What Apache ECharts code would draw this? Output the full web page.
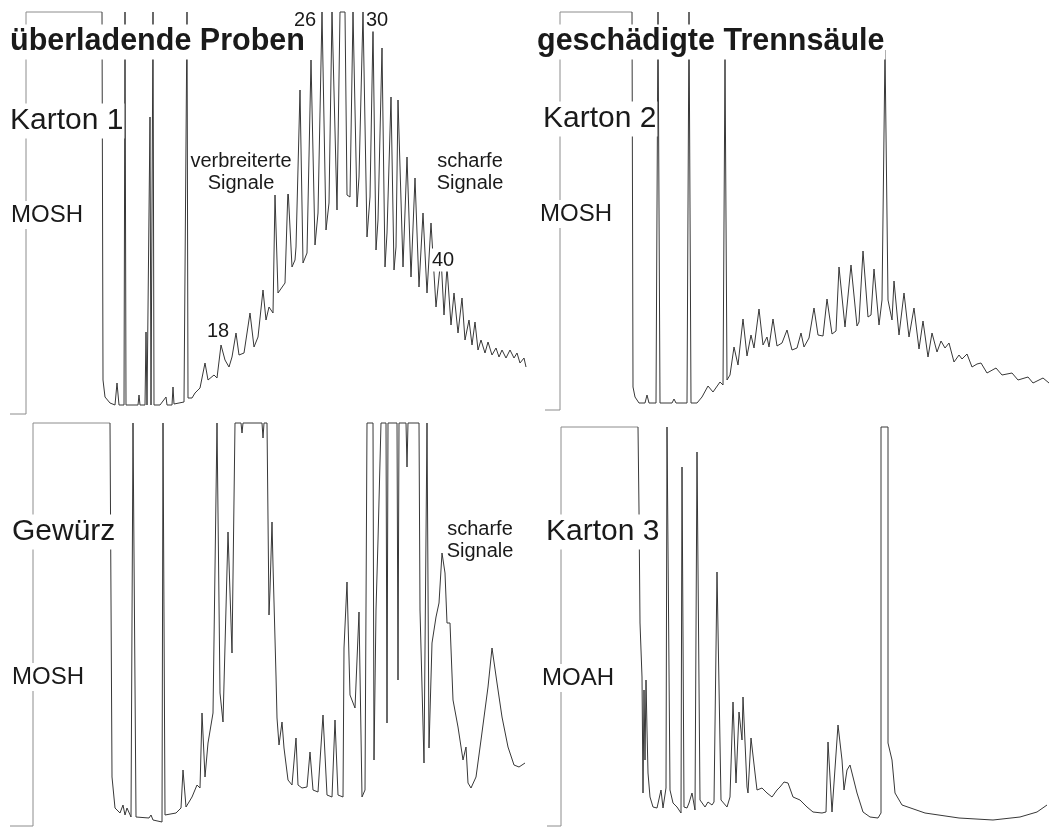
<!DOCTYPE html>
<html>
<head>
<meta charset="utf-8">
<script src="https://cdn.jsdelivr.net/npm/echarts@6/dist/echarts.min.js"></script>
<style>
  html, body { margin: 0; padding: 0; background: #ffffff; }
  #chart { width: 1049px; height: 828px; }
</style>
</head>
<body>
<div id="chart"></div>
<script>
// GC-FID traces: [retention time (a.u.), detector signal (a.u.)]
const karton1Trace = [
  [10,0],[26,0],[26,402],[102,402],[103,34],[105,17],[110,11],[115,9],[117,31],[119,9],[124,9],[125,402],[126,9],
  [138,9],[139,19],[140,9],[145,9],[146,82],[147,9],[149,9],[150,297],[151,9],[152,9],[153,402],[154,9],[160,9],
  [166,17],[167,9],[172,9],[173,27],[174,10],[184,12],[186,14],[187,402],[188,16],[192,16],[195,21],[200,26],
  [205,51],[208,34],[214,39],[217,36],[221,69],[225,54],[229,47],[232,57],[236,81],[239,59],[244,61],[250,101],
  [254,67],[258,77],[263,124],[266,94],[269,107],[273,101],[275,219],[278,121],[285,131],[288,226],[292,147],
  [295,154],[296,167],[300,324],[303,151],[307,161],[311,354],[315,169],[318,201],[322,402],[326,184],[329,211],
  [332,402],[337,204],[340,402],[345,402],[347,219],[350,217],[353,402],[357,207],[359,237],[363,402],[367,177],
  [370,217],[373,386],[376,164],[378,194],[382,366],[385,147],[387,181],[391,317],[394,144],[396,167],[398,314],
  [403,147],[407,257],[411,137],[415,236],[419,127],[423,201],[427,121],[431,191],[436,107],[441,157],[444,99],
  [447,147],[451,89],[454,121],[458,81],[462,116],[465,74],[469,94],[472,69],[475,92],[478,64],[481,74],[485,61],
  [488,72],[492,59],[496,66],[499,57],[502,64],[506,56],[510,64],[514,56],[517,61],[520,51],[524,56],[526,47]
];

const karton2Trace = [
  [5,0],[20,0],[20,398],[92,398],[93,23],[95,13],[99,7],[105,7],[107,15],[109,7],[116,7],[118,398],[120,7],
  [132,7],[134,11],[136,7],[147,7],[149,398],[151,7],[157,7],[162,13],[168,24],[173,18],[180,28],[183,25],
  [185,352],[187,30],[190,35],[194,63],[198,45],[203,91],[207,54],[211,75],[214,62],[219,101],[223,65],[227,73],
  [229,63],[233,91],[237,64],[242,67],[247,80],[252,60],[257,62],[261,77],[264,63],[269,72],[274,102],[278,75],
  [283,74],[287,111],[292,76],[296,79],[299,143],[305,83],[307,83],[311,145],[317,84],[319,88],[323,159],[328,93],
  [331,95],[334,141],[339,85],[342,110],[345,360],[348,110],[352,90],[354,129],[359,75],[364,117],[369,73],
  [374,102],[379,61],[383,89],[388,53],[392,77],[397,58],[401,69],[405,62],[409,67],[414,48],[419,55],[422,51],
  [427,56],[432,43],[437,46],[441,47],[447,37],[456,42],[462,35],[472,37],[478,30],[488,33],[493,27],[503,32],[509,27]
];

const gewuerzTrace = [
  [10,0],[33,0],[33,403],[110,403],[112,49],[115,18],[120,13],[123,21],[125,11],[127,18],[131,9],[133,403],[136,9],
  [149,8],[151,11],[153,6],[162,4],[163,403],[165,11],[176,13],[181,18],[183,56],[186,19],[192,29],[197,41],
  [200,38],[202,113],[205,49],[208,83],[213,113],[215,114],[217,403],[220,133],[223,104],[228,294],[232,173],
  [235,403],[241,403],[242,393],[243,403],[262,403],[263,388],[264,403],[267,403],[269,211],[270,236],[272,304],
  [273,261],[276,150],[277,108],[279,81],[282,104],[284,78],[288,46],[292,41],[296,88],[298,41],[302,38],[307,39],
  [310,74],[313,36],[318,34],[323,111],[327,31],[332,29],[335,106],[338,31],[343,29],[344,178],[347,244],[350,131],
  [355,118],[359,214],[362,29],[365,36],[367,403],[373,403],[374,66],[376,216],[378,286],[381,403],[386,403],
  [387,103],[388,403],[397,403],[398,146],[399,403],[406,403],[407,359],[408,403],[419,403],[420,216],[424,63],
  [427,403],[429,78],[432,183],[436,209],[439,223],[442,273],[445,253],[447,203],[450,203],[453,126],[458,99],
  [463,66],[466,79],[468,43],[471,38],[476,49],[481,86],[488,139],[492,178],[497,143],[502,109],[508,79],
  [514,61],[519,59],[525,63]
];

const karton3Trace = [
  [7,0],[21,0],[21,399],[98,399],[99,316],[100,203],[102,149],[103,33],[104,136],[105,66],[106,146],[107,96],
  [108,53],[110,29],[113,19],[117,18],[121,36],[123,18],[126,38],[127,399],[130,36],[133,23],[137,19],[141,13],
  [142,359],[144,19],[147,18],[149,23],[152,33],[155,16],[157,374],[160,26],[165,19],[168,24],[172,21],[174,24],
  [177,254],[181,26],[187,19],[190,29],[193,124],[196,43],[199,114],[202,86],[203,129],[207,39],[208,33],[211,88],
  [215,53],[217,36],[222,38],[227,33],[232,29],[237,36],[240,39],[244,44],[248,43],[253,29],[260,26],[267,19],
  [273,14],[282,13],[286,14],[288,84],[292,14],[294,13],[298,101],[302,66],[304,36],[307,56],[310,61],[313,49],
  [317,33],[323,14],[330,9],[338,8],[341,13],[341,399],[348,399],[348,83],[352,66],[355,33],[362,21],[385,13],
  [419,8],[453,6],[480,9],[497,14],[507,21]
];

// retention time at which the solvent plug ends in each run
const solventEnd = [102, 92, 110, 98];

// Panel titles and labels
const sampleNames = ['Karton 1', 'Karton 2', 'Gewürz', 'Karton 3'];
const fractionNames = ['MOSH', 'MOSH', 'MOSH', 'MOAH'];
const headings = ['überladende Proben', 'geschädigte Trennsäule'];
const carbonNumbers = ['18', '26', '30', '40'];

const traces = [karton1Trace, karton2Trace, gewuerzTrace, karton3Trace];

// layout of the four chromatograms (pixels) and their signal ranges
const panelLayout = [
  { left: 0,   top: 12,  width: 530, height: 402, xMax: 530, yMax: 402 },
  { left: 540, top: 12,  width: 509, height: 398, xMax: 509, yMax: 398 },
  { left: 0,   top: 423, width: 530, height: 403, xMax: 530, yMax: 403 },
  { left: 540, top: 427, width: 509, height: 399, xMax: 509, yMax: 399 }
];

const TRACE_COLOR = '#383838';
const SOLVENT_COLOR = '#8c8c8c';

const chart = echarts.init(document.getElementById('chart'), null, { renderer: 'canvas' });

// each run: solvent plug (light grey) followed by the analyte trace (dark)
const series = [];
traces.forEach((t, i) => {
  const k = t.findIndex(p => p[0] >= solventEnd[i]);
  const base = {
    type: 'line',
    xAxisIndex: i,
    yAxisIndex: i,
    showSymbol: false,
    symbol: 'none',
    clip: false,
    silent: true
  };
  series.push(Object.assign({}, base, {
    name: sampleNames[i] + ' Lösungsmittel',
    data: t.slice(0, k + 1),
    lineStyle: { color: SOLVENT_COLOR, width: 1 }
  }));
  series.push(Object.assign({}, base, {
    name: sampleNames[i],
    data: t.slice(k),
    lineStyle: { color: TRACE_COLOR, width: 1 }
  }));
});

const option = {
  animation: false,
  backgroundColor: '#ffffff',
  grid: panelLayout.map(p => ({ left: p.left, top: p.top, width: p.width, height: p.height, containLabel: false })),
  xAxis: panelLayout.map((p, i) => ({ type: 'value', gridIndex: i, min: 0, max: p.xMax, show: false })),
  yAxis: panelLayout.map((p, i) => ({ type: 'value', gridIndex: i, min: 0, max: p.yMax, show: false })),
  series: series
};
chart.setOption(option);

// annotations anchored in each panel's data coordinates
const FONT = '"Liberation Sans", Arial, Helvetica, sans-serif';
const notes = [
  { panel: 0, text: headings[0], x: 9,  y: 372, align: 'left', size: 30.5, weight: 'bold' },
  { panel: 0, text: sampleNames[0], x: 9, y: 293, align: 'left', size: 30 },
  { panel: 0, text: fractionNames[0], x: 10, y: 199, align: 'left', size: 24 },
  { panel: 0, text: 'verbreiterte\nSignale', x: 241, y: 242, align: 'center', size: 20, lh: 22 },
  { panel: 0, text: 'scharfe\nSignale', x: 470, y: 242, align: 'center', size: 20, lh: 22 },
  { panel: 0, text: carbonNumbers[0], x: 218, y: 83, align: 'center', size: 20 },
  { panel: 0, text: carbonNumbers[1], x: 305, y: 394, align: 'center', size: 20 },
  { panel: 0, text: carbonNumbers[2], x: 377, y: 394, align: 'center', size: 20 },
  { panel: 0, text: carbonNumbers[3], x: 443, y: 154, align: 'center', size: 20 },
  { panel: 1, text: headings[1], x: -4, y: 368, align: 'left', size: 30.5, weight: 'bold' },
  { panel: 1, text: sampleNames[1], x: 2, y: 291, align: 'left', size: 30 },
  { panel: 1, text: fractionNames[1], x: -1, y: 196, align: 'left', size: 24 },
  { panel: 2, text: sampleNames[2], x: 11, y: 294, align: 'left', size: 30 },
  { panel: 2, text: fractionNames[2], x: 11, y: 149, align: 'left', size: 24 },
  { panel: 2, text: 'scharfe\nSignale', x: 480, y: 286, align: 'center', size: 20, lh: 22 },
  { panel: 3, text: sampleNames[3], x: 5, y: 294, align: 'left', size: 30 },
  { panel: 3, text: fractionNames[3], x: 1, y: 148, align: 'left', size: 24 }
];

const graphics = notes.map(n => {
  const pt = chart.convertToPixel({ gridIndex: n.panel }, [n.x, n.y]);
  return {
    type: 'text',
    x: pt[0],
    y: pt[1],
    z: 100,
    silent: true,
    style: {
      text: n.text,
      fill: '#1a1a1a',
      fontFamily: FONT,
      fontSize: n.size,
      fontWeight: n.weight || 'normal',
      lineHeight: n.lh || Math.round(n.size * 1.15),
      align: n.align,
      verticalAlign: 'middle',
      backgroundColor: '#ffffff',
      padding: [0, 1]
    }
  };
});
chart.setOption({ graphic: graphics });
</script>
</body>
</html>
